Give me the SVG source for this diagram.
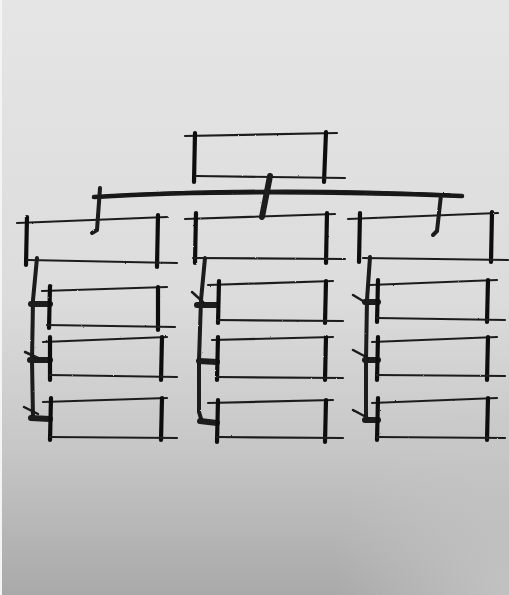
<svg xmlns="http://www.w3.org/2000/svg" width="509" height="595" viewBox="0 0 509 595">
  <defs>
    <linearGradient id="bg" x1="0" y1="0" x2="0" y2="1">
      <stop offset="0" stop-color="#e5e5e5"/>
      <stop offset="0.5" stop-color="#dcdcdc"/>
      <stop offset="0.75" stop-color="#c6c7c6"/>
      <stop offset="1" stop-color="#a8a9a8"/>
    </linearGradient>
    <radialGradient id="glow" cx="1" cy="1" r="0.35">
      <stop offset="0" stop-color="#c8c8c8" stop-opacity="0.8"/>
      <stop offset="1" stop-color="#c8c8c8" stop-opacity="0"/>
    </radialGradient>
    <filter id="rough" x="-5%" y="-5%" width="110%" height="110%">
      <feTurbulence type="fractalNoise" baseFrequency="0.6" numOctaves="2" seed="3"/>
      <feDisplacementMap in="SourceGraphic" scale="1.6"/>
    </filter>
  </defs>
  <style>
    .h { stroke: #1e1e1e; stroke-width: 2.2; fill: none; stroke-linecap: round; }
    .v { stroke: #111; stroke-width: 4.2; fill: none; stroke-linecap: round; }
    .c { stroke: #1a1a1a; fill: none; stroke-linecap: round; stroke-linejoin: round; }
    .s { stroke: #1a1a1a; fill: none; stroke-linecap: round; stroke-width: 1.4; }
  </style>
  <rect width="509" height="595" fill="url(#bg)"/>
  <rect width="509" height="595" fill="url(#glow)"/>
  <rect x="0" y="0" width="2" height="595" fill="#f4f4f4"/>

  <g filter="url(#rough)">
    <g id="root">
      <path class="h" d="M185 136 L337 133"/>
      <path class="v" d="M195 133 L194 182"/>
      <path class="v" d="M326 132 L324 182"/>
      <path class="h" d="M196 176 L345 178"/>
    </g>

    <g id="connectors">
      <path class="c" stroke="#3c3c3c" stroke-width="4.5" d="M94 197 C 180 192, 300 190, 462 196"/>
      <path class="s" d="M93 198 C 180 193, 300 191, 463 197"/>
      <path class="s" d="M97 196 C 190 191, 310 189, 458 195"/>
      <path class="s" d="M110 195 C 200 190, 320 188, 450 194"/>
      <path class="c" stroke-width="6" d="M270 176 L262 217"/>
      <path class="c" stroke-width="4" d="M100 188 L97 230 L92 233"/>
      <path class="c" stroke-width="4" d="M441 195 L437 231 L433 235"/>
      <!-- left spine -->
      <path class="c" stroke-width="4" d="M37 258 L33 300 L32 360 L33 418"/>
      <path class="c" stroke-width="6" d="M31 304 L50 304"/>
      <path class="c" stroke-width="6" d="M30 360 L50 360"/>
      <path class="c" stroke-width="6" d="M31 418 L50 419"/>
      <path class="c" stroke-width="2.5" d="M25 352 L38 358"/>
      <path class="c" stroke-width="2.5" d="M24 407 L38 414"/>
      <!-- middle spine -->
      <path class="c" stroke-width="4" d="M205 258 L201 300 L199 360 L199 412 L202 422"/>
      <path class="c" stroke-width="6" d="M197 305 L217 305"/>
      <path class="c" stroke-width="6" d="M199 361 L217 362"/>
      <path class="c" stroke-width="6" d="M200 421 L217 423"/>
      <path class="c" stroke-width="2.5" d="M192 292 L203 302"/>
      <!-- right spine -->
      <path class="c" stroke-width="4" d="M370 257 L367 300 L366 360 L366 420"/>
      <path class="c" stroke-width="6" d="M365 302 L378 302"/>
      <path class="c" stroke-width="6" d="M365 360 L378 360"/>
      <path class="c" stroke-width="6" d="M365 420 L378 420"/>
      <path class="c" stroke-width="2.5" d="M353 295 L368 304"/>
      <path class="c" stroke-width="2.5" d="M353 350 L368 358"/>
      <path class="c" stroke-width="2.5" d="M353 410 L368 418"/>
    </g>

    <g id="left-head">
      <path class="h" d="M17 223 L167 217"/>
      <path class="v" d="M27 217 L26 265"/>
      <path class="v" d="M158 215 L157 267"/>
      <path class="h" d="M28 260 L177 263"/>
    </g>
    <g id="left-1">
      <path class="h" d="M42 291 L167 287"/>
      <path class="v" d="M50 286 L49 328"/>
      <path class="v" d="M158 287 L158 330"/>
      <path class="h" d="M47 325 L175 327"/>
    </g>
    <g id="left-2">
      <path class="h" d="M43 342 L167 337"/>
      <path class="v" d="M50 337 L50 380"/>
      <path class="v" d="M162 337 L161 380"/>
      <path class="h" d="M50 375 L177 377"/>
    </g>
    <g id="left-3">
      <path class="h" d="M43 402 L167 398"/>
      <path class="v" d="M51 398 L50 440"/>
      <path class="v" d="M162 398 L161 440"/>
      <path class="h" d="M50 437 L177 438"/>
    </g>

    <g id="mid-head">
      <path class="h" d="M185 219 L335 214"/>
      <path class="v" d="M196 213 L195 263"/>
      <path class="v" d="M327 213 L326 263"/>
      <path class="h" d="M193 258 L345 259"/>
    </g>
    <g id="mid-1">
      <path class="h" d="M208 285 L333 281"/>
      <path class="v" d="M219 281 L218 323"/>
      <path class="v" d="M326 281 L325 323"/>
      <path class="h" d="M217 320 L343 321"/>
    </g>
    <g id="mid-2">
      <path class="h" d="M212 340 L333 337"/>
      <path class="v" d="M218 337 L217 380"/>
      <path class="v" d="M326 337 L325 380"/>
      <path class="h" d="M217 377 L343 378"/>
    </g>
    <g id="mid-3">
      <path class="h" d="M208 403 L333 400"/>
      <path class="v" d="M218 400 L217 442"/>
      <path class="v" d="M326 400 L325 442"/>
      <path class="h" d="M217 437 L343 438"/>
    </g>

    <g id="right-head">
      <path class="h" d="M348 219 L498 213"/>
      <path class="v" d="M360 213 L359 262"/>
      <path class="v" d="M492 212 L491 262"/>
      <path class="h" d="M363 258 L508 260"/>
    </g>
    <g id="right-1">
      <path class="h" d="M370 285 L497 280"/>
      <path class="v" d="M378 280 L377 322"/>
      <path class="v" d="M488 280 L487 322"/>
      <path class="h" d="M377 318 L505 320"/>
    </g>
    <g id="right-2">
      <path class="h" d="M372 342 L497 337"/>
      <path class="v" d="M378 337 L377 380"/>
      <path class="v" d="M488 337 L487 380"/>
      <path class="h" d="M377 375 L505 376"/>
    </g>
    <g id="right-3">
      <path class="h" d="M372 403 L497 398"/>
      <path class="v" d="M378 398 L377 440"/>
      <path class="v" d="M488 398 L487 440"/>
      <path class="h" d="M377 437 L505 438"/>
    </g>
  </g>
</svg>
